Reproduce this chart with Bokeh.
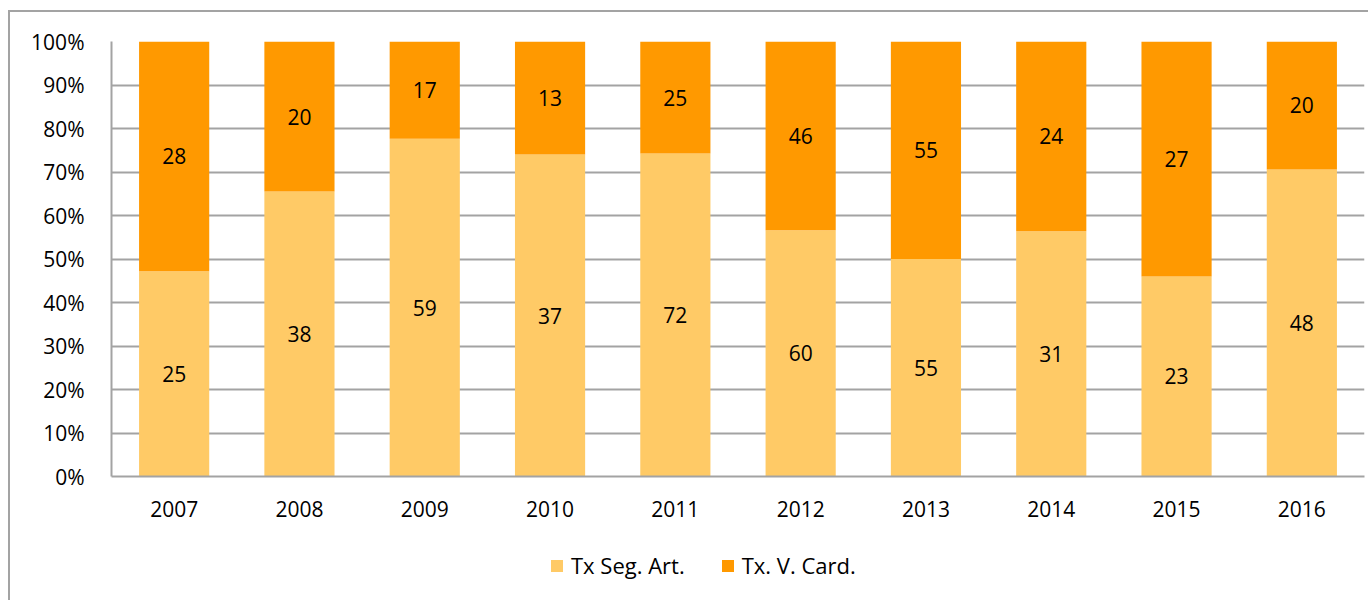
from bokeh.plotting import figure
from bokeh.layouts import column
from bokeh.models import ColumnDataSource, NumeralTickFormatter, FixedTicker, Legend, LegendItem
from bokeh.core.properties import value
from bokeh.embed import file_html
from bokeh.resources import INLINE

years = ["2007", "2008", "2009", "2010", "2011", "2012", "2013", "2014", "2015", "2016"]
seg_art = [25, 38, 59, 37, 72, 60, 55, 31, 23, 48]
v_card = [28, 20, 17, 13, 25, 46, 55, 24, 27, 20]
series_names = ["Tx Seg. Art.", "Tx. V. Card."]
colors = ["#FFCA66", "#FF9900"]
FONT = "Open Sans"

tot = [a + b for a, b in zip(seg_art, v_card)]
f1 = [a / t for a, t in zip(seg_art, tot)]
src = ColumnDataSource(dict(
    x=years,
    b0=[0.0] * len(years),
    t0=f1,
    b1=f1,
    t1=[1.0] * len(years),
    m0=[v / 2 for v in f1],
    m1=[(v + 1) / 2 for v in f1],
    l0=[str(v) for v in seg_art],
    l1=[str(v) for v in v_card],
))

p = figure(x_range=years, y_range=(0, 1), width=1358, height=530,
           output_backend="svg", toolbar_location=None,
           min_border_left=101, min_border_right=4, min_border_top=29, min_border_bottom=66)
p.outline_line_color = None
p.x_range.range_padding = 0

r0 = p.vbar(x="x", bottom="b0", top="t0", width=0.56, color=colors[0], line_color=None, source=src)
r1 = p.vbar(x="x", bottom="b1", top="t1", width=0.56, color=colors[1], line_color=None, source=src)

for m, l in (("m0", "l0"), ("m1", "l1")):
    p.text(x="x", y=m, text=l, source=src, text_align="center", text_baseline="middle",
           text_font=value(FONT), text_font_size="21px", text_color="#000000")

p.yaxis.ticker = FixedTicker(ticks=[i / 10 for i in range(11)])
p.yaxis.formatter = NumeralTickFormatter(format="0%")
p.xgrid.grid_line_color = None
p.ygrid.grid_line_color = "#a3a3a3"
p.ygrid.grid_line_width = 2
p.ygrid.ticker = p.yaxis.ticker
for ax in (p.xaxis, p.yaxis):
    ax.axis_line_color = "#a3a3a3"
    ax.axis_line_width = 2
    ax.major_tick_line_color = None
    ax.minor_tick_line_color = None
    ax.major_label_text_font = FONT
    ax.major_label_text_font_size = "21px"
    ax.major_label_text_color = "#000000"
p.yaxis.major_label_standoff = 21
p.xaxis.major_label_standoff = 18

# legend strip below the chart (its frame is aligned with the chart's frame)
lf = figure(width=1358, height=58, x_range=(0, 1), y_range=(0, 1),
            output_backend="svg", toolbar_location=None,
            x_axis_type=None, y_axis_type=None,
            min_border_left=101, min_border_right=4, min_border_top=0, min_border_bottom=0)
lf.outline_line_color = None
lf.xgrid.visible = False
lf.ygrid.visible = False
nan = float("nan")
d0 = lf.vbar(x=[nan], top=[nan], width=0.1, color=colors[0], line_color=None)
d1 = lf.vbar(x=[nan], top=[nan], width=0.1, color=colors[1], line_color=None)
legend = Legend(items=[LegendItem(label=series_names[0], renderers=[d0]),
                       LegendItem(label=series_names[1], renderers=[d1])],
                orientation="horizontal", location=(438, 20), padding=0, margin=0,
                spacing=35, glyph_width=15, glyph_height=15, label_standoff=7,
                label_text_font=FONT, label_text_font_size="22px", label_text_color="#000000",
                border_line_color=None, background_fill_alpha=0)
lf.add_layout(legend, "center")

layout = column(p, lf, spacing=0)
layout.styles = {"border-left": "2px solid #a3a3a3", "border-top": "2px solid #a3a3a3",
                 "margin-top": "10px", "margin-left": "8px"}

open("out.html", "w").write(file_html(layout, INLINE))
